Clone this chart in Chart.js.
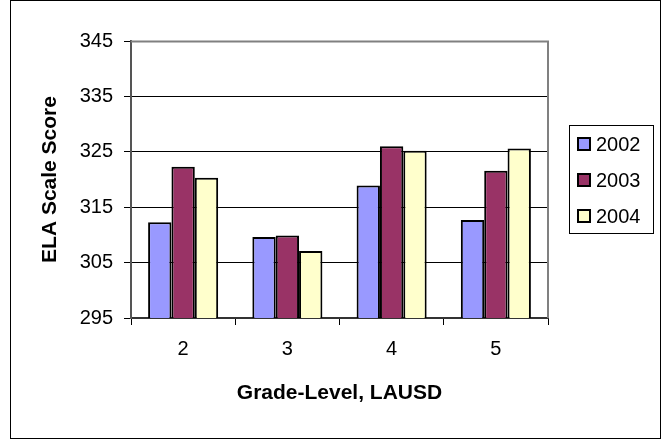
<!DOCTYPE html>
<html>
<head>
<meta charset="utf-8">
<script src="https://cdn.jsdelivr.net/npm/chart.js@4"></script>
<style>
  html, body { margin: 0; padding: 0; background: #fff; }
  #wrap { width: 664px; height: 439px; }
</style>
</head>
<body>
<div id="wrap"><canvas id="c" width="664" height="439"></canvas></div>
<script>
// Grade levels along the x axis
const grades = ['2', '3', '4', '5'];
// Series labels (school years)
const years = ['2002', '2003', '2004'];
// Mean ELA scale scores per grade
const scores2002 = [312.3, 309.6, 318.9, 312.7];
const scores2003 = [322.3, 309.9, 326.0, 321.6];
const scores2004 = [320.3, 307.1, 325.2, 325.6];
// Value axis range
const yMin = 295;
const yMax = 345;
const yStep = 10;

const fills = ['#9999FF', '#993366', '#FFFFCC'];
const FONT = "'Liberation Sans', Arial, sans-serif";

// White page, outer frame and plot-area frame
const framePlugin = {
  id: 'frames',
  beforeDraw(chart) {
    const ctx = chart.ctx;
    ctx.save();
    ctx.fillStyle = '#fff';
    ctx.fillRect(0, 0, chart.width, chart.height);
    ctx.restore();
  },
  afterDatasetsDraw(chart) {
    const { ctx, chartArea: a } = chart;
    ctx.save();
    ctx.strokeStyle = '#808080';
    ctx.lineWidth = 2;
    ctx.beginPath();
    ctx.moveTo(a.left, a.top + 0.5);
    ctx.lineTo(a.right, a.top + 0.5);
    ctx.lineTo(a.right, a.bottom);
    ctx.stroke();
    ctx.strokeStyle = '#000';
    ctx.lineWidth = 1;
    ctx.strokeRect(10.5, 0.5, 650, 438);
    ctx.restore();
  }
};

// Boxed legend to the right of the plot
const sideLegend = {
  id: 'sideLegend',
  afterDraw(chart) {
    const ctx = chart.ctx;
    const box = { x: 569.5, y: 125.5, w: 84, h: 108 };
    ctx.save();
    ctx.strokeStyle = '#000';
    ctx.lineWidth = 1;
    ctx.strokeRect(box.x, box.y, box.w, box.h);
    ctx.font = '20px ' + FONT;
    ctx.textBaseline = 'middle';
    ctx.fillStyle = '#000';
    chart.data.datasets.forEach((ds, i) => {
      const cy = 144 + i * 36;
      ctx.fillStyle = ds.backgroundColor;
      ctx.fillRect(577, cy - 7, 14, 14);
      ctx.lineWidth = 2;
      ctx.strokeStyle = '#000';
      ctx.strokeRect(578, cy - 6, 12, 12);
      ctx.fillStyle = '#000';
      ctx.fillText(ds.label, 596, cy + 1);
    });
    ctx.restore();
  }
};

const seriesValues = [scores2002, scores2003, scores2004];

new Chart(document.getElementById('c'), {
  type: 'bar',
  data: {
    labels: grades,
    datasets: years.map((y, i) => ({
      label: y,
      data: seriesValues[i],
      backgroundColor: fills[i],
      borderColor: '#000',
      borderWidth: 2,
      borderSkipped: false,
      categoryPercentage: 0.672,
      barPercentage: 1.0
    }))
  },
  options: {
    responsive: false,
    animation: false,
    devicePixelRatio: 1,
    layout: { padding: { left: 10, right: 116, top: 41, bottom: 20 } },
    plugins: {
      legend: { display: false },
      tooltip: { enabled: false }
    },
    scales: {
      x: {
        afterFit(s) { s.height = 101; },
        grid: { drawOnChartArea: false, drawTicks: true, tickLength: 7, color: '#000', offset: true },
        border: { color: '#333', width: 2 },
        ticks: { color: '#000', font: { family: FONT, size: 20 }, padding: 12 },
        title: {
          display: true,
          text: 'Grade-Level, LAUSD',
          color: '#000',
          font: { family: FONT, size: 21, weight: 'bold' },
          padding: { top: 0, bottom: 13 }
        }
      },
      y: {
        min: yMin,
        max: yMax,
        afterFit(s) { s.width = 121; },
        grid: { color: '#000', lineWidth: 1, drawTicks: true, tickLength: 7 },
        border: { color: '#555', width: 2 },
        ticks: { stepSize: yStep, color: '#000', font: { family: FONT, size: 20 }, padding: 11 },
        title: {
          display: true,
          text: 'ELA Scale Score',
          color: '#000',
          font: { family: FONT, size: 21, weight: 'bold' },
          padding: { top: 28, bottom: 0 }
        }
      }
    }
  },
  plugins: [framePlugin, sideLegend]
});
</script>
</body>
</html>
